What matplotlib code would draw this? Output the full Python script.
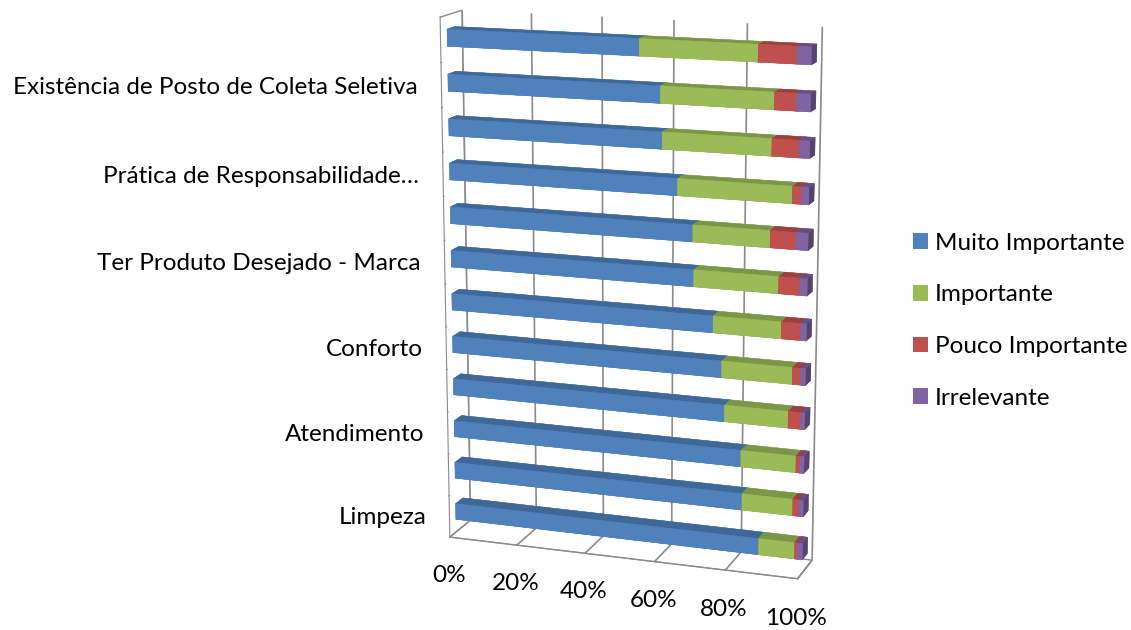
import numpy as np
import matplotlib
matplotlib.use("Agg")
import matplotlib.pyplot as plt
from matplotlib.patches import Patch
from matplotlib.colors import to_rgb

plt.rcParams['font.family'] = ['Lato', 'DejaVu Sans']

# categorias de baixo para cima (apenas uma em cada duas aparece rotulada)
categorias = ["Limpeza", "", "Atendimento", "", "Conforto", "",
              "Ter Produto Desejado - Marca", "", "Prática de Responsabilidade…", "",
              "Existência de Posto de Coleta Seletiva", ""]

muito = [87.8, 83.1, 82.6, 78.0, 77.1, 74.6, 69.2, 68.8, 64.6, 60.3, 59.8, 54.0]
importante = [10.0, 14.0, 15.2, 17.5, 19.4, 18.7, 23.2, 21.1, 31.1, 29.7, 30.7, 32.0]
pouco = [0.8, 1.7, 1.1, 3.4, 2.1, 5.1, 5.6, 6.9, 2.3, 7.3, 5.7, 10.2]
irrelevante = [1.4, 1.2, 1.1, 1.1, 1.4, 1.6, 2.0, 3.2, 2.0, 2.7, 3.8, 3.8]

series = ["Muito Importante", "Importante", "Pouco Importante", "Irrelevante"]
cores = ["#4F81BD", "#9BBB59", "#C0504D", "#8064A2"]
xticks = [0, 20, 40, 60, 80, 100]


def face_colors(c):
    r = np.array(to_rgb(c))
    # ordem do bar3d: -z, +z, -y, +y, -x, +x
    return [r * 0.8, r * 0.8, r, r, r, r * 0.68]


vals = np.array([muito, importante, pouco, irrelevante]) / 100.0
left = np.vstack([np.zeros(vals.shape[1]), np.cumsum(vals, axis=0)[:-1]])
n = len(categorias)

fig = plt.figure(figsize=(11.31, 6.30), dpi=100)
ax = fig.add_axes([0.299, 0.024, 0.5, 1.0], projection='3d')

xs, zs, dxs, cols = [], [], [], []
for s in range(len(series)):
    for i in range(n):
        xs.append(left[s, i])
        zs.append(i + 0.31)
        dxs.append(vals[s, i])
        cols.extend(face_colors(cores[s]))

ax.bar3d(xs, np.full(len(xs), 0.3), zs, dxs, 0.35, 0.38,
         color=cols, shade=False, edgecolor=cols, linewidth=0.3)

ax.set_xlim(0, 1)
ax.set_ylim(0, 1)
ax.set_zlim(0, n)
ax.set_box_aspect((1, 0.15, 1.45), zoom=1.135)
ax.set_proj_type('persp', focal_length=0.8)
ax.view_init(elev=14, azim=-71)

ax.set_xticks(np.array(xticks) / 100.0)
ax.set_xticklabels([f"{t}%" for t in xticks], fontsize=17.5)
ax.set_yticks([])
ax.set_zticks(range(n + 1))
ax.set_zticklabels([])
ax.zaxis.set_ticks_position('lower')
ax.zaxis._axinfo['tick'].update(inward_factor=0.0, outward_factor=0.35)
ax.xaxis._axinfo['tick'].update(inward_factor=0.0, outward_factor=0.3)
ax.xaxis.set_tick_params(color='#8a8a8a')
ax.zaxis.set_tick_params(color='#8a8a8a')

for a in (ax.xaxis, ax.yaxis, ax.zaxis):
    a.set_pane_color((1, 1, 1, 1))
    a.line.set_color('#8a8a8a')
ax.xaxis.pane.set_edgecolor('#8a8a8a')
ax.zaxis.pane.set_edgecolor('#8a8a8a')
ax.yaxis.pane.set_edgecolor('white')
ax.xaxis._axinfo['grid'].update(color='#8a8a8a', linewidth=1.2)
ax.yaxis.gridlines.set_visible(False)
ax.zaxis.gridlines.set_visible(False)

for i, nome in enumerate(categorias):
    if nome:
        ax.text(-0.07, 0, i + 0.42, nome, ha='right', va='center', fontsize=17.5)

handles = [Patch(facecolor=c, label=s) for c, s in zip(cores, series)]
fig.legend(handles=handles, loc='center left', bbox_to_anchor=(0.788, 0.491),
           frameon=False, fontsize=17.5, labelspacing=1.26, handlelength=0.6,
           handleheight=0.6, handletextpad=0.3)

fig.savefig("out.png", dpi=100)
